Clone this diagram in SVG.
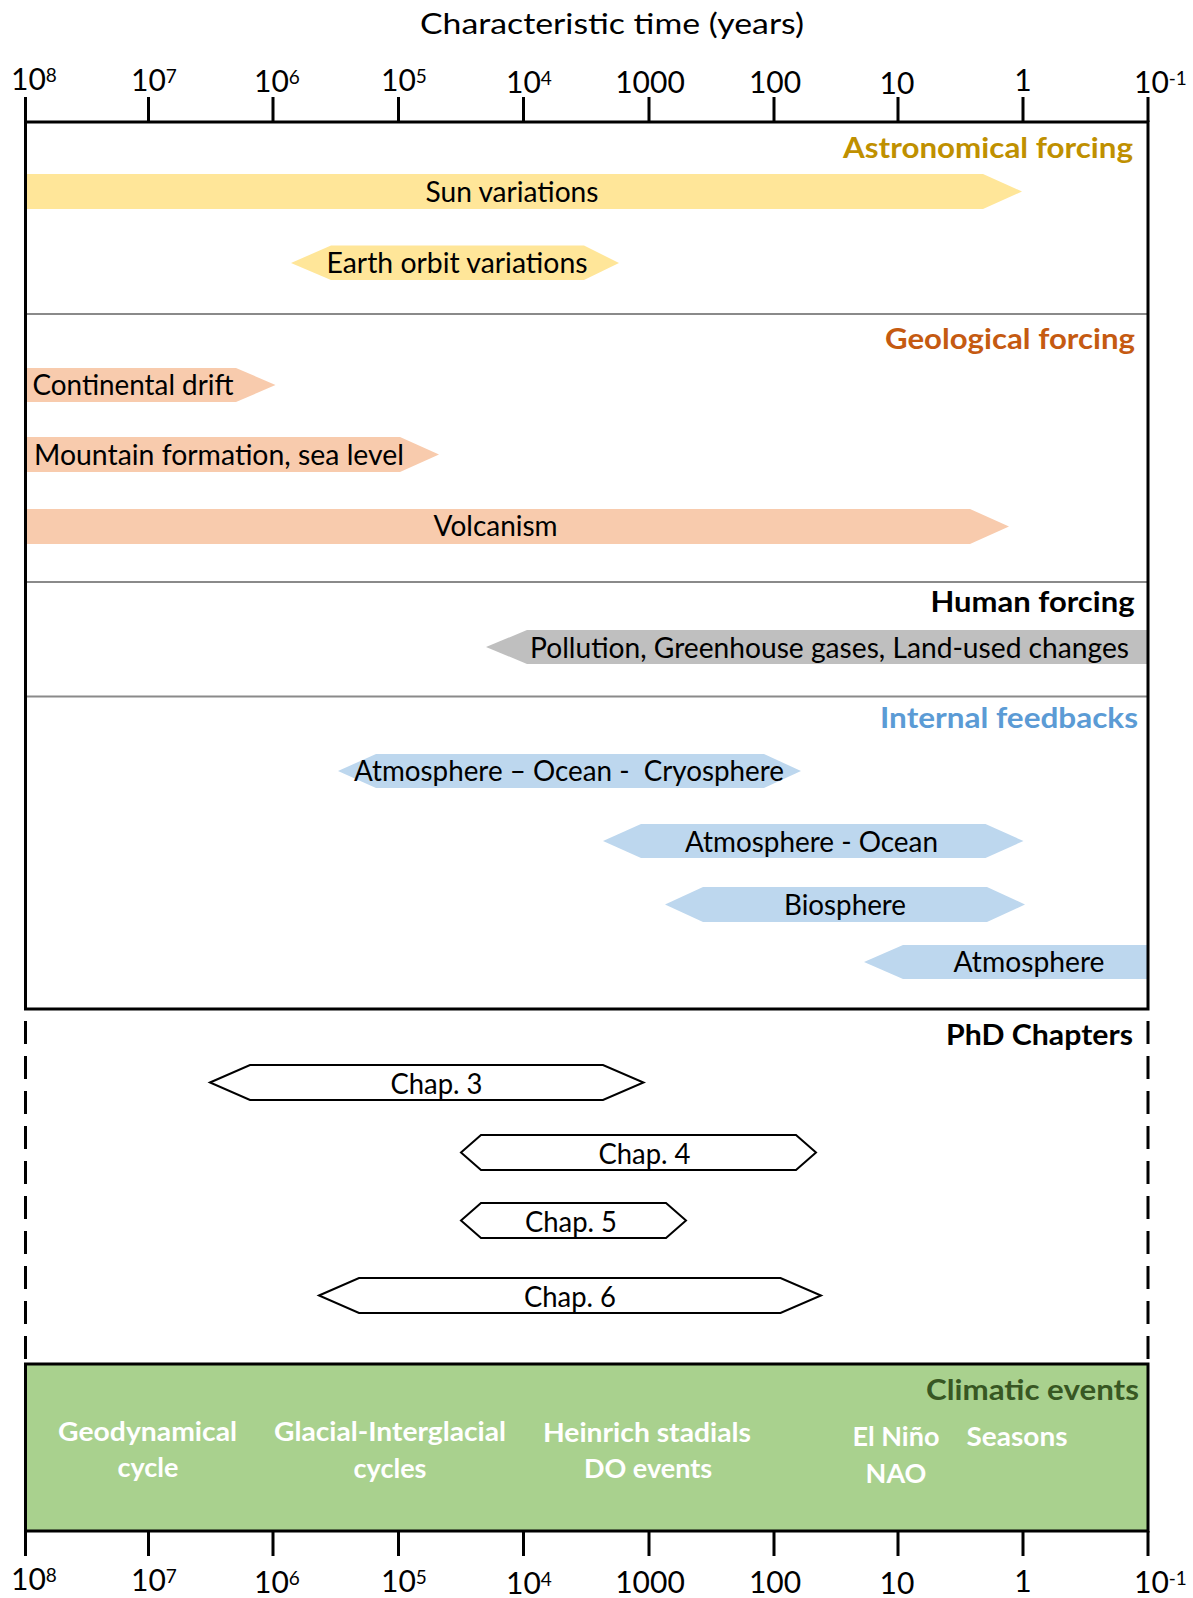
<svg xmlns="http://www.w3.org/2000/svg" width="1193" height="1598" viewBox="0 0 1193 1598">
<style>
text{font-family:Lato,"Open Sans","Liberation Sans",sans-serif;fill:#000}
.lbl{font-size:28px}
.ax{font-size:30px}
.sup{font-size:19px}
.hd{font-size:28px;font-weight:bold;text-anchor:end}
.ev{font-size:27px;font-weight:bold;fill:#fff;text-anchor:middle}
.mid{text-anchor:middle}
.frame{stroke:#000;stroke-width:3;fill:none}
.tick{stroke:#000;stroke-width:3}
.sep{stroke:#8a8a8a;stroke-width:2}
.dash{stroke:#000;stroke-width:3;stroke-dasharray:23 12;stroke-dashoffset:23}
.yel{fill:#FFE699}
.org{fill:#F8CBAD}
.gry{fill:#BFBFBF}
.blu{fill:#BDD7EE}
.chap{fill:#fff;stroke:#000;stroke-width:2}
</style>
<rect x="0" y="0" width="1193" height="1598" fill="#fff"/>

<text id="title" class="mid" x="612" y="34" font-size="29" textLength="384" lengthAdjust="spacingAndGlyphs">Characteristic time (years)</text>

<g id="top-axis-labels" class="ax">
<text x="11" y="90">10<tspan class="sup" dy="-8.5">8</tspan></text>
<text x="131" y="91">10<tspan class="sup" dy="-8.5">7</tspan></text>
<text x="254" y="92">10<tspan class="sup" dy="-8.5">6</tspan></text>
<text x="381" y="91">10<tspan class="sup" dy="-8.5">5</tspan></text>
<text x="506" y="93">10<tspan class="sup" dy="-8.5">4</tspan></text>
<text class="mid" x="650" y="93">1000</text>
<text class="mid" x="775" y="93">100</text>
<text class="mid" x="897" y="94">10</text>
<text class="mid" x="1023" y="91">1</text>
<text x="1134" y="93">10<tspan class="sup" dy="-8.5">-1</tspan></text>
</g>

<g id="bars">
<g id="sun-variations"><polygon class="yel" points="26,174 983,174 1022,191.5 983,209 26,209"/><text class="lbl mid" x="512" y="202" textLength="173" lengthAdjust="spacingAndGlyphs">Sun variations</text></g>
<g id="earth-orbit"><polygon class="yel" points="291,263 331,245.5 584,245.5 619,263 584,280 331,280"/><text class="lbl mid" x="457" y="273" textLength="261" lengthAdjust="spacingAndGlyphs">Earth orbit variations</text></g>
<g id="continental-drift"><polygon class="org" points="26,368 236,368 275.5,385 236,402 26,402"/><text class="lbl" x="32.5" y="395" textLength="201" lengthAdjust="spacingAndGlyphs">Continental drift</text></g>
<g id="mountain-formation"><polygon class="org" points="26,437 400,437 439,454.5 400,472 26,472"/><text class="lbl" x="34" y="464.5" textLength="370" lengthAdjust="spacingAndGlyphs">Mountain formation, sea level</text></g>
<g id="volcanism"><polygon class="org" points="26,509 970,509 1009,526.5 970,544 26,544"/><text class="lbl mid" x="495.6" y="536" textLength="124" lengthAdjust="spacingAndGlyphs">Volcanism</text></g>
<g id="pollution"><polygon class="gry" points="486,647 527,630 1147,630 1147,664 527,664"/><text class="lbl mid" x="829.5" y="657.5" textLength="599" lengthAdjust="spacingAndGlyphs">Pollution, Greenhouse gases, Land-used changes</text></g>
<g id="atm-ocean-cryo"><polygon class="blu" points="338,771 376,754 764,754 801,771 764,788 376,788"/><text class="lbl mid" x="569" y="781" textLength="430" lengthAdjust="spacingAndGlyphs" style="white-space:pre">Atmosphere – Ocean -  Cryosphere</text></g>
<g id="atm-ocean"><polygon class="blu" points="603,841 641,824 985.5,824 1023.5,841 985.5,858 641,858"/><text class="lbl mid" x="811.5" y="851.5" textLength="253" lengthAdjust="spacingAndGlyphs">Atmosphere - Ocean</text></g>
<g id="biosphere"><polygon class="blu" points="665,904.5 703,887 987,887 1025,904.5 987,922 703,922"/><text class="lbl mid" x="845" y="914.5" textLength="122" lengthAdjust="spacingAndGlyphs">Biosphere</text></g>
<g id="atmosphere"><polygon class="blu" points="864,962 903,945 1147,945 1147,979 903,979"/><text class="lbl mid" x="1029" y="971.5" textLength="151" lengthAdjust="spacingAndGlyphs">Atmosphere</text></g>
</g>

<g id="chapters">
<g id="chap3"><polygon class="chap" points="210,1082.5 250,1065 603,1065 643.5,1082.5 603,1100 250,1100"/><text class="lbl mid" x="436.5" y="1093.5" textLength="92" lengthAdjust="spacingAndGlyphs">Chap. 3</text></g>
<g id="chap4"><polygon class="chap" points="461,1152.5 481,1135 796,1135 816,1152.5 796,1170 481,1170"/><text class="lbl mid" x="644.5" y="1163.5" textLength="92" lengthAdjust="spacingAndGlyphs">Chap. 4</text></g>
<g id="chap5"><polygon class="chap" points="461,1220.5 481,1203 666,1203 686,1220.5 666,1238 481,1238"/><text class="lbl mid" x="571" y="1231.5" textLength="92" lengthAdjust="spacingAndGlyphs">Chap. 5</text></g>
<g id="chap6"><polygon class="chap" points="319,1295.5 359,1278 780.5,1278 821,1295.5 780.5,1313 359,1313"/><text class="lbl mid" x="570" y="1306.5" textLength="92" lengthAdjust="spacingAndGlyphs">Chap. 6</text></g>
</g>

<g id="climatic-events">
<rect x="25.5" y="1364" width="1122.5" height="167" fill="#A9D18E" stroke="#000" stroke-width="3"/>
<text class="ev" x="147.6" y="1441" textLength="179" lengthAdjust="spacingAndGlyphs">Geodynamical</text>
<text class="ev" x="148" y="1477">cycle</text>
<text class="ev" x="390" y="1441" textLength="232" lengthAdjust="spacingAndGlyphs">Glacial-Interglacial</text>
<text class="ev" x="390" y="1478">cycles</text>
<text class="ev" x="647" y="1442" textLength="208" lengthAdjust="spacingAndGlyphs">Heinrich stadials</text>
<text class="ev" x="648" y="1478">DO events</text>
<text class="ev" x="896" y="1446" textLength="87" lengthAdjust="spacingAndGlyphs">El Niño</text>
<text class="ev" x="896" y="1483">NAO</text>
<text class="ev" x="1017" y="1446" textLength="101" lengthAdjust="spacingAndGlyphs">Seasons</text>
</g>

<g id="separators">
<line class="sep" x1="26" y1="314" x2="1147" y2="314"/>
<line class="sep" x1="26" y1="582" x2="1147" y2="582"/>
<line class="sep" x1="26" y1="696.5" x2="1147" y2="696.5"/>
</g>

<g id="frame">
<path class="frame" d="M24,122 H1149.5 M25.5,122 V1009 M1148,122 V1009 M24,1009 H1149.5"/>
<line class="dash" x1="25.5" y1="1009" x2="25.5" y2="1364"/>
<line class="dash" x1="1148" y1="1009" x2="1148" y2="1364"/>
<path class="tick" d="M25.5,97 V122 M148.5,97 V122 M273,97 V122 M398.5,97 V122 M523.5,97 V122 M649,97 V122 M774,97 V122 M898,97 V122 M1023,97 V122 M1148,97 V122"/>
<path class="tick" d="M25.5,1531 V1556 M148.5,1531 V1556 M273,1531 V1556 M398.5,1531 V1556 M523.5,1531 V1556 M649,1531 V1556 M774,1531 V1556 M898,1531 V1556 M1023,1531 V1556 M1148,1531 V1556"/>
</g>

<g id="headings">
<text class="hd" x="1133" y="158" style="fill:#BF9000" textLength="290" lengthAdjust="spacingAndGlyphs">Astronomical forcing</text>
<text class="hd" x="1135" y="348.5" style="fill:#C55A11" textLength="250" lengthAdjust="spacingAndGlyphs">Geological forcing</text>
<text class="hd" x="1134.5" y="612" textLength="204" lengthAdjust="spacingAndGlyphs">Human forcing</text>
<text class="hd" x="1138" y="728" style="fill:#5B9BD5" textLength="258" lengthAdjust="spacingAndGlyphs">Internal feedbacks</text>
<text class="hd" x="1133" y="1045" textLength="187" lengthAdjust="spacingAndGlyphs">PhD Chapters</text>
<text class="hd" x="1139" y="1400" style="fill:#385723" textLength="213" lengthAdjust="spacingAndGlyphs">Climatic events</text>
</g>

<g id="bottom-axis-labels" class="ax">
<text x="11" y="1590">10<tspan class="sup" dy="-8.5">8</tspan></text>
<text x="131" y="1591">10<tspan class="sup" dy="-8.5">7</tspan></text>
<text x="254" y="1593">10<tspan class="sup" dy="-8.5">6</tspan></text>
<text x="381" y="1592">10<tspan class="sup" dy="-8.5">5</tspan></text>
<text x="506" y="1594">10<tspan class="sup" dy="-8.5">4</tspan></text>
<text class="mid" x="650" y="1593">1000</text>
<text class="mid" x="775" y="1593">100</text>
<text class="mid" x="897" y="1594">10</text>
<text class="mid" x="1023" y="1592">1</text>
<text x="1134" y="1593">10<tspan class="sup" dy="-8.5">-1</tspan></text>
</g>
</svg>
